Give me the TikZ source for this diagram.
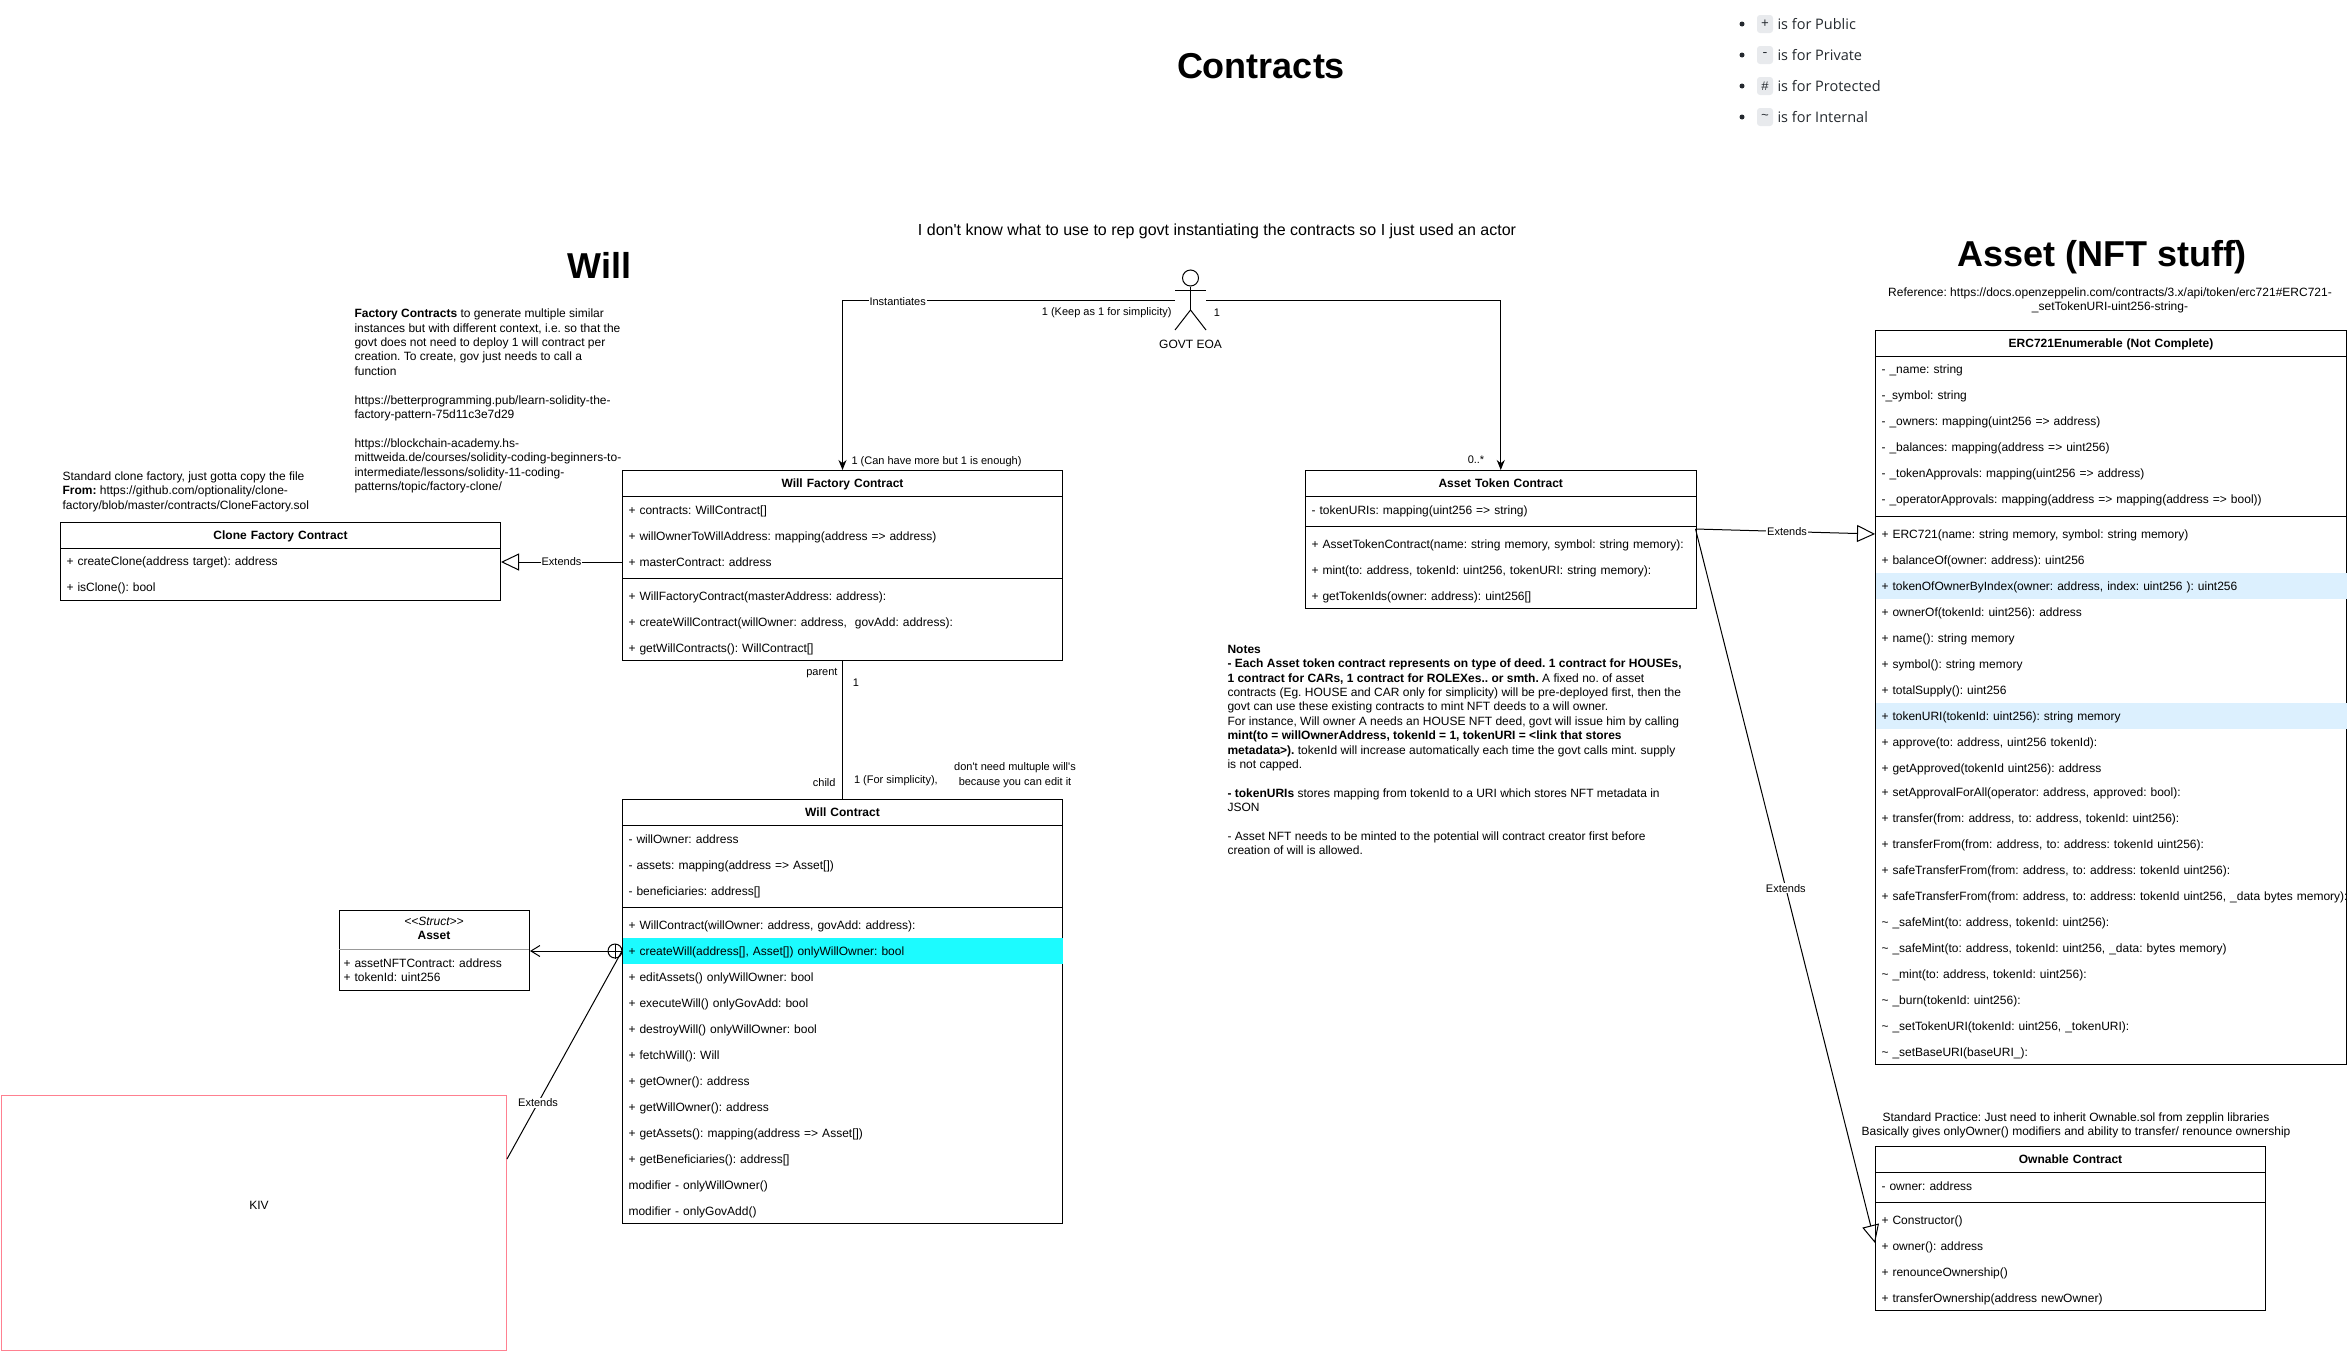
\documentclass[tikz,border=0pt]{standalone}
\usepackage{fontspec}
\setmainfont{Liberation Sans}[Ligatures=TeXOff]
\setmonofont{Liberation Mono}[Ligatures=TeXOff]
\newfontfamily\listfont{Open Sans}[Ligatures=TeXOff]
\usetikzlibrary{arrows.meta, calc, shapes.misc}
\frenchspacing
\definecolor{rowcyan}{HTML}{1CFBFF}
\definecolor{rowblue}{HTML}{DCF0FE}
\definecolor{kivpink}{HTML}{FF8090}
\definecolor{badgegray}{HTML}{E8EAED}
\definecolor{structgray}{HTML}{999999}
\definecolor{listgray}{HTML}{24292E}

\begin{document}
\begin{tikzpicture}[
        x=1pt, y=-1pt,
        line width=1pt,
        font=\fontsize{12}{14.4}\selectfont,
        >=Stealth,
        classbox/.style={rectangle, draw=black, fill=white, anchor=north west, inner sep=0pt},
        row/.style={rectangle, anchor=west, inner xsep=6pt, inner ysep=0pt, minimum height=26pt, text height=10pt, text depth=2pt, text width=#1, align=left},
        head/.style={row=#1, align=center, font=\fontsize{12}{14.4}\selectfont\bfseries},
        arrow/.style={->, >={Stealth[length=10pt, width=8pt]}},
        extends/.style={-{Triangle[open, length=18pt, width=17pt]}},
        openarrow/.style={-{Straight Barb[length=9pt, width=11pt]}},
        conlabel/.style={fill=white, inner sep=1pt, font=\fontsize{11}{15}\selectfont},
        endlabel/.style={inner sep=0pt, font=\fontsize{11}{15}\selectfont},
        note/.style={inner sep=0pt, align=left, anchor=north west},
        caption/.style={inner sep=0pt, align=center},
        bigtitle/.style={inner sep=0pt, font=\fontsize{36}{40}\selectfont\bfseries},
        bullet/.style={circle, fill=listgray, inner sep=0pt, minimum size=5pt},
        badge/.style={rectangle, rounded corners=3pt, fill=badgegray, minimum width=16pt, minimum height=18pt, inner sep=0pt, text=listgray, font=\fontsize{13}{14}\selectfont\ttfamily},
        listtext/.style={anchor=west, inner sep=0pt, text=listgray, font=\fontsize{14.5}{16}\listfont}
    ]
    \useasboundingbox (0,0) rectangle (2347,1352);

    %% --- Titles and free notes ---
    \node[bigtitle] (contracts) at (1261,66) {Contracts};
    \node[bigtitle] (willtitle) at (599.5,265) {Will};
    \node[bigtitle] (assettitle) at (2102,257) {Asset (NFT stuff)};
    \node[caption, font=\fontsize{16}{19}\selectfont] (actornote) at (1217,231.5) {I don't know what to use to rep govt instantiating the contracts so I just used an actor};
    \node[caption] (refnote) at (2110,300.5) {Reference: https://docs.openzeppelin.com/contracts/3.x/api/token/erc721\#ERC721-\\\_setTokenURI-uint256-string-};
    \node[note] (factorynote) at (354,308.5) {\textbf{Factory Contracts} to generate multiple similar\\instances but with different context, i.e. so that the\\govt does not need to deploy 1 will contract per\\creation. To create, gov just needs to call a\\function\\[14.4pt]https://betterprogramming.pub/learn-solidity-the-\\factory-pattern-75d11c3e7d29\\[14.4pt]https://blockchain-academy.hs-\\mittweida.de/courses/solidity-coding-beginners-to-\\intermediate/lessons/solidity-11-coding-\\patterns/topic/factory-clone/};
    \node[note] (clonenote) at (62,471) {Standard clone factory, just gotta copy the file\\\textbf{From:} https://github.com/optionality/clone-\\factory/blob/master/contracts/CloneFactory.sol};
    \node[note] (notes) at (1227,644.5) {\textbf{Notes}\\\textbf{- Each Asset token contract represents on type of deed. 1 contract for HOUSEs,}\\\textbf{1 contract for CARs, 1 contract for ROLEXes.. or smth.} A fixed no. of asset\\contracts (Eg. HOUSE and CAR only for simplicity) will be pre-deployed first, then the\\govt can use these existing contracts to mint NFT deeds to a will owner.\\For instance, Will owner A needs an HOUSE NFT deed, govt will issue him by calling\\\textbf{mint(to = willOwnerAddress, tokenId = 1, tokenURI = <link that stores}\\\textbf{metadata>).} tokenId will increase automatically each time the govt calls mint. supply\\is not capped.\\[14.4pt]\textbf{- tokenURIs} stores mapping from tokenId to a URI which stores NFT metadata in\\JSON\\[14.4pt]- Asset NFT needs to be minted to the potential will contract creator first before\\creation of will is allowed.};
    \node[caption] (ownablenote) at (2076,1125.5) {Standard Practice: Just need to inherit Ownable.sol from zepplin libraries\\Basically gives onlyOwner() modifiers and ability to transfer/ renounce ownership};

    %% --- Visibility legend ---
    \node[bullet] (dot1) at (1742,24) {};
    \node[badge]  (key1) at (1765,24) {+};
    \node[listtext] (txt1) at (1777,24) {is for Public};
    \node[bullet] (dot2) at (1742,55) {};
    \node[badge]  (key2) at (1765,55) {-};
    \node[listtext] (txt2) at (1777,55) {is for Private};
    \node[bullet] (dot3) at (1742,86) {};
    \node[badge]  (key3) at (1765,86) {\#};
    \node[listtext] (txt3) at (1777,86) {is for Protected};
    \node[bullet] (dot4) at (1742,117) {};
    \node[badge]  (key4) at (1765,117) {\textasciitilde};
    \node[listtext] (txt4) at (1777,117) {is for Internal};

    %% --- Actor ---
    \node[circle, draw, inner sep=0pt, minimum size=16pt] (govthead) at (1190.5,278) {};
    \coordinate (govthip) at (1190.5,310);
    \coordinate (govtL) at (1175,300);
    \coordinate (govtR) at (1206,300);
    \draw (govthead.south) -- (govthip);
    \draw (1175,290) -- (1206,290);
    \draw (1175,330) -- (govthip) -- (1206,330);
    \node[inner sep=0pt] (govtlabel) at (1190.5,344) {GOVT EOA};

    %% --- Clone Factory Contract ---
    \node[classbox, minimum width=440pt, minimum height=78pt] (clone) at (60,522) {};
    \node[head=428pt] (clonehead) at (60,535) {Clone Factory Contract};
    \draw (clonehead.south west) -- (clonehead.south east);
    \node[row=428pt] (clone1) at (60,561) {+ createClone(address target): address};
    \node[row=428pt] (clone2) at (60,587) {+ isClone(): bool};

    %% --- Will Factory Contract ---
    \node[classbox, minimum width=440pt, minimum height=190pt] (wf) at (622,470) {};
    \node[head=428pt] (wfhead) at (622,483) {Will Factory Contract};
    \draw (wfhead.south west) -- (wfhead.south east);
    \node[row=428pt] (wf1) at (622,510) {+ contracts: WillContract[]};
    \node[row=428pt] (wf2) at (622,536) {+ willOwnerToWillAddress: mapping(address => address)};
    \node[row=428pt] (wf3) at (622,562) {+ masterContract: address};
    \draw ([yshift=-3pt]wf3.south west) -- ([yshift=-3pt]wf3.south east);
    \node[row=428pt] (wf4) at (622,596) {+ WillFactoryContract(masterAddress: address):};
    \node[row=428pt] (wf5) at (622,622) {+ createWillContract(willOwner: address,\ \ govAdd: address):};
    \node[row=428pt] (wf6) at (622,648) {+ getWillContracts(): WillContract[]};

    %% --- Will Contract ---
    \node[classbox, minimum width=440pt, minimum height=424pt] (wc) at (622,799) {};
    \node[head=428pt] (wchead) at (622,812) {Will Contract};
    \draw (wchead.south west) -- (wchead.south east);
    \node[row=428pt] (wc1) at (622,839) {- willOwner: address};
    \node[row=428pt] (wc2) at (622,865) {- assets: mapping(address => Asset[])};
    \node[row=428pt] (wc3) at (622,891) {- beneficiaries: address[]};
    \draw ([yshift=-3pt]wc3.south west) -- ([yshift=-3pt]wc3.south east);
    \node[row=428pt] (wc4) at (622,925) {+ WillContract(willOwner: address, govAdd: address):};
    \node[row=428pt, fill=rowcyan] (wc5) at (622,951) {+ createWill(address[], Asset[]) onlyWillOwner: bool};
    \node[row=428pt] (wc6) at (622,977) {+ editAssets() onlyWillOwner: bool};
    \node[row=428pt] (wc7) at (622,1003) {+ executeWill() onlyGovAdd: bool};
    \node[row=428pt] (wc8) at (622,1029) {+ destroyWill() onlyWillOwner: bool};
    \node[row=428pt] (wc9) at (622,1055) {+ fetchWill(): Will};
    \node[row=428pt] (wc10) at (622,1081) {+ getOwner(): address};
    \node[row=428pt] (wc11) at (622,1107) {+ getWillOwner(): address};
    \node[row=428pt] (wc12) at (622,1133) {+ getAssets(): mapping(address => Asset[])};
    \node[row=428pt] (wc13) at (622,1159) {+ getBeneficiaries(): address[]};
    \node[row=428pt] (wc14) at (622,1185) {modifier - onlyWillOwner()};
    \node[row=428pt] (wc15) at (622,1211) {modifier - onlyGovAdd()};

    %% --- Asset struct ---
    \node[classbox, minimum width=190pt, minimum height=80pt] (asset) at (339,910) {};
    \node[inner sep=0pt, font=\fontsize{12}{14.4}\selectfont\itshape] (assetstereo) at (434,921) {<<Struct>>};
    \node[inner sep=0pt, font=\fontsize{12}{14.4}\selectfont\bfseries] (assethead) at (434,935) {Asset};
    \draw[structgray] (339,949) -- (529,949);
    \node[row=182pt, inner xsep=4pt, minimum height=14pt] (asset1) at (339,963) {+ assetNFTContract: address};
    \node[row=182pt, inner xsep=4pt, minimum height=14pt] (asset2) at (339,977) {+ tokenId: uint256};

    %% --- KIV box ---
    \node[rectangle, draw=kivpink, anchor=north west, inner sep=0pt, minimum width=505.5pt, minimum height=255pt] (kiv) at (0.5,1095) {};
    \node[inner sep=0pt] (kivlabel) at (259,1205) {KIV};

    %% --- Asset Token Contract ---
    \node[classbox, minimum width=390.5pt, minimum height=138pt] (at) at (1305,470) {};
    \node[head=378.5pt] (athead) at (1305,483) {Asset Token Contract};
    \draw (athead.south west) -- (athead.south east);
    \node[row=378.5pt] (at1) at (1305,510) {- tokenURIs: mapping(uint256 => string)};
    \draw ([yshift=-3pt]at1.south west) -- ([yshift=-3pt]at1.south east);
    \node[row=378.5pt] (at2) at (1305,544) {+ AssetTokenContract(name: string memory, symbol: string memory):};
    \node[row=378.5pt] (at3) at (1305,570) {+ mint(to: address, tokenId: uint256, tokenURI: string memory):};
    \node[row=378.5pt] (at4) at (1305,596) {+ getTokenIds(owner: address): uint256[]};
    \coordinate (atout) at (1695.5,529);

    %% --- ERC721Enumerable ---
    \node[classbox, minimum width=471pt, minimum height=734pt] (erc) at (1875,330) {};
    \node[head=459pt] (erchead) at (1875,343) {ERC721Enumerable (Not Complete)};
    \draw (erchead.south west) -- (erchead.south east);
    \node[row=459pt] (erc1) at (1875,369) {- \_name: string};
    \node[row=459pt] (erc2) at (1875,395) {-\_symbol: string};
    \node[row=459pt] (erc3) at (1875,421) {- \_owners: mapping(uint256 => address)};
    \node[row=459pt] (erc4) at (1875,447) {- \_balances: mapping(address => uint256)};
    \node[row=459pt] (erc5) at (1875,473) {- \_tokenApprovals: mapping(uint256 => address)};
    \node[row=459pt] (erc6) at (1875,499) {- \_operatorApprovals: mapping(address => mapping(address => bool))};
    \draw ([yshift=-4pt]erc6.south west) -- ([yshift=-4pt]erc6.south east);
    \node[row=459pt] (erc7) at (1875,534) {+ ERC721(name: string memory, symbol: string memory)};
    \node[row=459pt] (erc8) at (1875,560) {+ balanceOf(owner: address): uint256};
    \node[row=459pt, fill=rowblue] (erc9) at (1875,586) {+ tokenOfOwnerByIndex(owner: address, index: uint256 ): uint256};
    \node[row=459pt] (erc10) at (1875,612) {+ ownerOf(tokenId: uint256): address};
    \node[row=459pt] (erc11) at (1875,638) {+ name(): string memory};
    \node[row=459pt] (erc12) at (1875,664) {+ symbol(): string memory};
    \node[row=459pt] (erc13) at (1875,690) {+ totalSupply(): uint256};
    \node[row=459pt, fill=rowblue] (erc14) at (1875,716) {+ tokenURI(tokenId: uint256): string memory};
    \node[row=459pt] (erc15) at (1875,742) {+ approve(to: address, uint256 tokenId):};
    \node[row=459pt] (erc16) at (1875,768) {+ getApproved(tokenId uint256): address};
    \node[row=459pt] (erc17) at (1875,792) {+ setApprovalForAll(operator: address, approved: bool):};
    \node[row=459pt] (erc18) at (1875,818) {+ transfer(from: address, to: address, tokenId: uint256):};
    \node[row=459pt] (erc19) at (1875,844) {+ transferFrom(from: address, to: address: tokenId uint256):};
    \node[row=459pt] (erc20) at (1875,870) {+ safeTransferFrom(from: address, to: address: tokenId uint256):};
    \node[row=459pt] (erc21) at (1875,896) {\mbox{+ safeTransferFrom(from: address, to: address: tokenId uint256, \_data bytes memory):}};
    \node[row=459pt] (erc22) at (1875,922) {\textasciitilde\ \_safeMint(to: address, tokenId: uint256):};
    \node[row=459pt] (erc23) at (1875,948) {\textasciitilde\ \_safeMint(to: address, tokenId: uint256, \_data: bytes memory)};
    \node[row=459pt] (erc24) at (1875,974) {\textasciitilde\ \_mint(to: address, tokenId: uint256):};
    \node[row=459pt] (erc25) at (1875,1000) {\textasciitilde\ \_burn(tokenId: uint256):};
    \node[row=459pt] (erc26) at (1875,1026) {\textasciitilde\ \_setTokenURI(tokenId: uint256, \_tokenURI):};
    \node[row=459pt] (erc27) at (1875,1052) {\textasciitilde\ \_setBaseURI(baseURI\_):};

    %% --- Ownable Contract ---
    \node[classbox, minimum width=390pt, minimum height=164pt] (own) at (1875,1146) {};
    \node[head=378pt] (ownhead) at (1875,1159) {Ownable Contract};
    \draw (ownhead.south west) -- (ownhead.south east);
    \node[row=378pt] (own1) at (1875,1186) {- owner: address};
    \draw ([yshift=-3pt]own1.south west) -- ([yshift=-3pt]own1.south east);
    \node[row=378pt] (own2) at (1875,1220) {+ Constructor()};
    \node[row=378pt] (own3) at (1875,1246) {+ owner(): address};
    \node[row=378pt] (own4) at (1875,1272) {+ renounceOwnership()};
    \node[row=378pt] (own5) at (1875,1298) {+ transferOwnership(address newOwner)};

    %% --- Actor -> contracts ---
    \draw[arrow] (govtL) -| node[conlabel, pos=0.417, yshift=-2pt] (instlabel) {Instantiates} (wf.north);
    \draw[arrow] (govtR) -| (at.north);
    \node[endlabel, anchor=west] (wfmult) at (851,462) {1 (Can have more but 1 is enough)};
    \node[endlabel, anchor=east] (govtmultL) at (1172,313) {1 (Keep as 1 for simplicity)};
    \node[endlabel] (govtmultR) at (1217,313) {1};
    \node[endlabel] (atmult) at (1476,460) {0..*};

    %% --- Factory -> will contract ---
    \draw (wf.south) -- (wc.north);
    \node[endlabel, anchor=east] (parentlabel) at (838,673) {parent};
    \node[endlabel] (parentmult) at (856,683) {1};
    \node[endlabel, anchor=east] (childlabel) at (836,783) {child};
    \node[endlabel, anchor=west] (childmult) at (853.5,781) {1 (For simplicity),};
    \node[endlabel, align=center] (childnote) at (1015,775.5) {don't need multuple will's\\because you can edit it};

    %% --- Inheritance ---
    \draw[extends] (wf3.west) -- node[conlabel] (extclone) {Extends} (wf3.west -| clone.east);
    \draw[extends] (atout) -- node[conlabel, pos=0.51] (exterc) {Extends} (erc7.west);
    \draw[extends] (atout) -- node[conlabel, pos=0.503] (extown) {Extends} ([yshift=3pt]own3.west);

    %% --- Nested struct and KIV link ---
    \node[circle, draw, inner sep=0pt, minimum size=14pt] (nest) at (615,951) {};
    \draw (nest.north) -- (nest.south);
    \draw (nest.west) -- (nest.east);
    \draw[openarrow] (nest.west) -- (nest.west -| asset.east);
    \draw ($(kiv.north east)!0.25!(kiv.south east)$) -- node[conlabel, pos=0.27] (extkiv) {Extends} (wc5.west);
\end{tikzpicture}
\end{document}
